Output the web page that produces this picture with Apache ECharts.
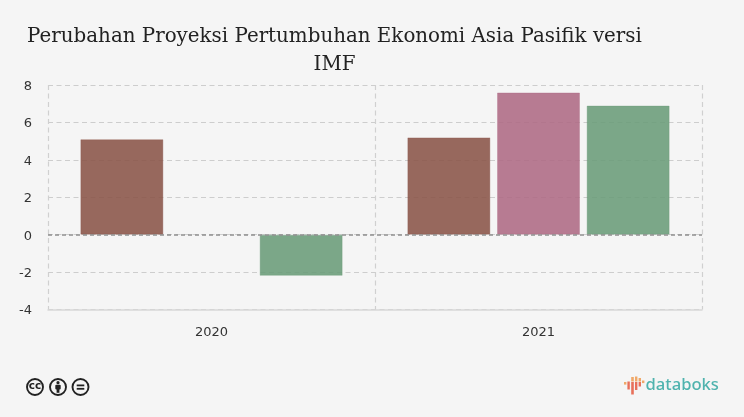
<!DOCTYPE html>
<html>
<head>
<meta charset="utf-8">
<style>html,body{margin:0;padding:0;background:#f5f5f5}#c{width:744px;height:417px}</style>
<script src="https://cdn.jsdelivr.net/npm/echarts@6/dist/echarts.min.js"></script>
</head>
<body>
<div id="c"></div>
<script>
const categories = ['2020', '2021'];
const seriesRed = [5.1, 5.2];
const seriesPink = [null, 7.6];
const seriesGreen = [-2.2, 6.9];
const titleText = 'Perubahan Proyeksi Pertumbuhan Ekonomi Asia Pasifik versi\nIMF';

const chart = echarts.init(document.getElementById('c'), null, {renderer: 'canvas'});
const labelFont = 'DejaVu Sans';
function bar(name, data, fill, border, extra) {
  return Object.assign({
    name, type: 'bar', data, barWidth: 83, barGap: '8%',
    itemStyle: {color: fill, borderColor: border, borderWidth: 1}
  }, extra || {});
}
function ccIcon(cx, inner) {
  return {type: 'group', x: cx, y: 387, children: [
    {type: 'circle', shape: {cx: 0, cy: 0, r: 8}, style: {fill: '#f5f5f5', stroke: '#222', lineWidth: 1.9}}
  ].concat(inner)};
}
const o = '#f0a868', r = '#e8705a';
chart.setOption({
  backgroundColor: '#f5f5f5',
  animation: false,
  title: {
    text: titleText, left: 329.5, top: 18, textAlign: 'center',
    textStyle: {fontFamily: 'DejaVu Serif', fontSize: 19.85, fontWeight: 'normal', color: '#222', lineHeight: 28}
  },
  grid: {left: 48, right: 42, top: 85, bottom: 107.5},
  xAxis: {
    type: 'category', data: categories,
    axisLine: {onZero: false, lineStyle: {color: '#d8d8d8', width: 1.5}},
    axisTick: {alignWithLabel: true, length: 6, lineStyle: {color: '#d0d0d0', width: 1.2}},
    axisLabel: {fontFamily: labelFont, fontSize: 13, color: '#333', margin: 17},
    splitLine: {show: true, interval: 0, lineStyle: {type: [5, 3.5], color: '#d0d0d0', width: 1.2}}
  },
  yAxis: {
    type: 'value', min: -4, max: 8, interval: 2,
    axisLine: {show: false}, axisTick: {show: false},
    axisLabel: {
      margin: 16, formatter: '{a|{value}}',
      rich: {a: {fontFamily: labelFont, fontSize: 13, color: '#333', padding: [3, 0, 0, 0]}}
    },
    splitLine: {show: true, lineStyle: {type: [5, 3.5], color: '#cdcdcd', width: 1.2}}
  },
  series: [
    bar('Red', seriesRed, 'rgba(138,84,72,0.88)', 'rgba(138,84,72,0.35)', {
      markLine: {
        silent: true, symbol: 'none', label: {show: false}, z: 10,
        lineStyle: {type: [4, 3], color: '#8f8f8f', width: 1.5},
        data: [{yAxis: 0}]
      }
    }),
    bar('Pink', seriesPink, 'rgba(174,106,132,0.88)', 'rgba(174,106,132,0.35)'),
    bar('Green', seriesGreen, 'rgba(106,156,121,0.88)', 'rgba(106,156,121,0.35)')
  ],
  graphic: [
    ccIcon(35, [{type: 'text', style: {x: 0, y: -0.5, text: 'cc', fill: '#222', font: 'bold 10.5px "DejaVu Sans"', align: 'center', verticalAlign: 'middle'}}]),
    ccIcon(58, [
      {type: 'circle', shape: {cx: 0, cy: -4.3, r: 1.6}, style: {fill: '#222'}},
      {type: 'rect', shape: {x: -2.7, y: -2.2, width: 5.4, height: 4.7, r: 1}, style: {fill: '#222'}},
      {type: 'rect', shape: {x: -1.4, y: 2, width: 2.8, height: 3.8}, style: {fill: '#222'}}
    ]),
    ccIcon(80.5, [
      {type: 'rect', shape: {x: -3.8, y: -2.5, width: 7.6, height: 1.8}, style: {fill: '#222'}},
      {type: 'rect', shape: {x: -3.8, y: 0.9, width: 7.6, height: 1.8}, style: {fill: '#222'}}
    ]),
    {type: 'text', style: {x: 645.5, y: 385.5, text: 'databoks', fill: '#4fb3ae', font: '500 16.6px "Noto Sans"', verticalAlign: 'middle', align: 'left'}},
    {type: 'group', x: 624, y: 376, children: [
      {type: 'rect', shape: {x: 0, y: 6, width: 2.4, height: 2.6}, style: {fill: o}},
      {type: 'rect', shape: {x: 3.4, y: 5.5, width: 2.4, height: 8}, style: {fill: r}},
      {type: 'rect', shape: {x: 7.2, y: 1, width: 2.6, height: 4.5}, style: {fill: o}},
      {type: 'rect', shape: {x: 7.2, y: 6, width: 2.6, height: 12.5}, style: {fill: r}},
      {type: 'rect', shape: {x: 11, y: 0.5, width: 2.4, height: 5}, style: {fill: o}},
      {type: 'rect', shape: {x: 11, y: 6, width: 2.4, height: 8}, style: {fill: r}},
      {type: 'rect', shape: {x: 14.6, y: 2, width: 2.4, height: 3.5}, style: {fill: o}},
      {type: 'rect', shape: {x: 14.6, y: 6, width: 2.4, height: 4.5}, style: {fill: r}},
      {type: 'rect', shape: {x: 18, y: 4.5, width: 2.4, height: 2.6}, style: {fill: o}}
    ]}
  ]
});
</script>
</body>
</html>
